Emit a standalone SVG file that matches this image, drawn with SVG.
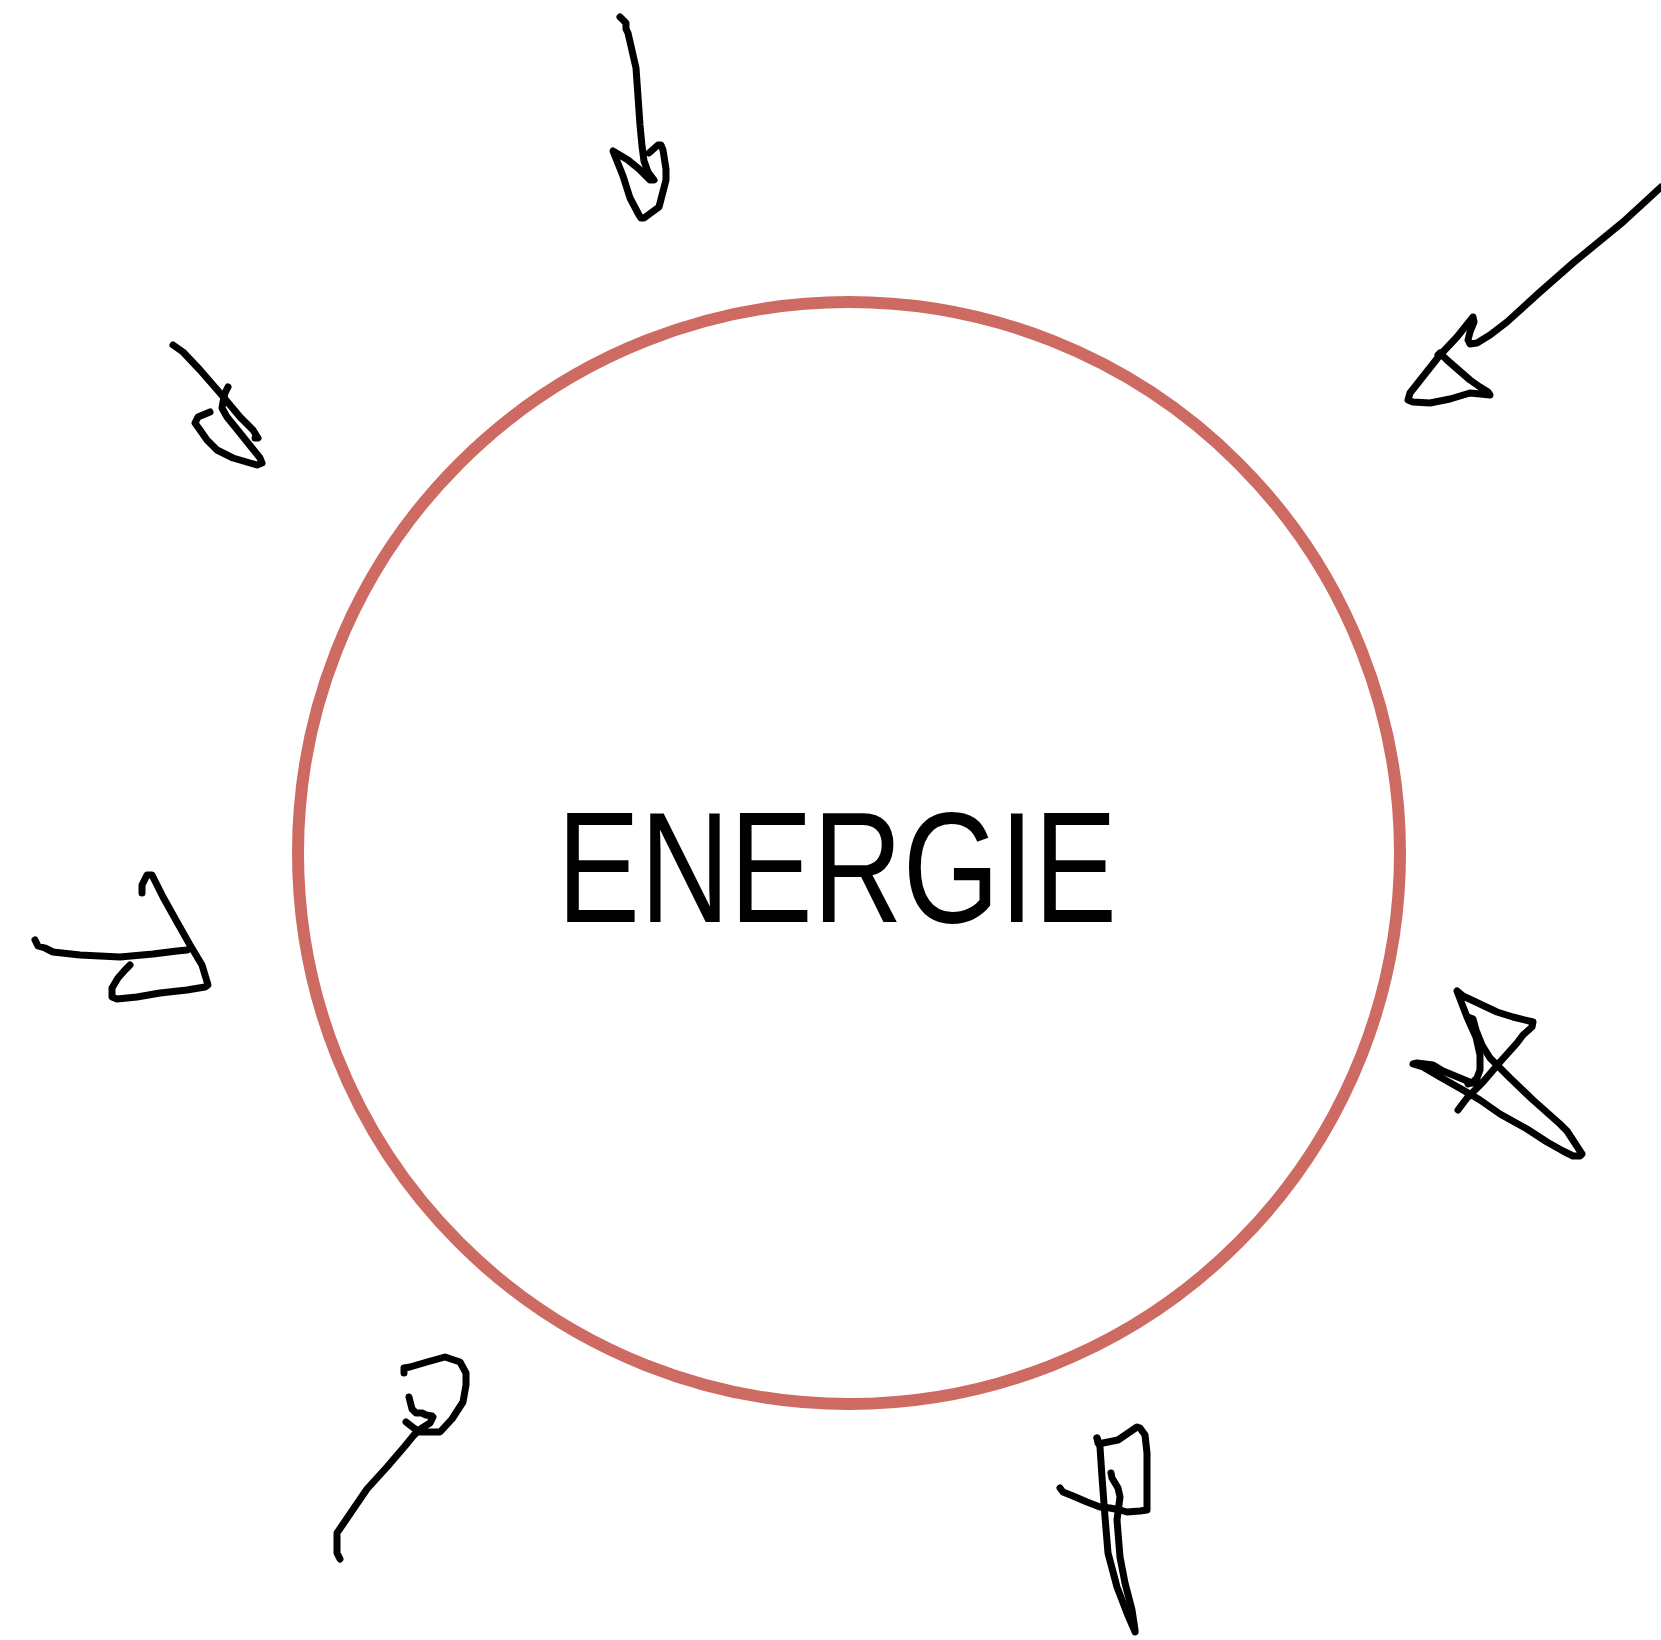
<svg xmlns="http://www.w3.org/2000/svg" width="1661" height="1640" viewBox="0 0 1661 1640">
<style>
.ink{fill:none;stroke:#000;stroke-width:7;stroke-linecap:round;stroke-linejoin:round}
.ring{fill:none;stroke:#CD6A62;stroke-width:12}
.lbl{font-family:"Liberation Sans",Arial,Helvetica,sans-serif;font-size:158px;fill:#000}
</style>
<rect width="1661" height="1640" fill="#fff"/>
<g id="energie">
<circle class="ring" cx="849" cy="853" r="551"/>
<text class="lbl" x="557" y="922" textLength="560" lengthAdjust="spacingAndGlyphs">ENERGIE</text>
</g>
<g id="strokes">
<g id="s1"><path class="ink" d="M620,17 L626,23 L626,29 L628,33 L636,68 L640,125 L642,146 L644,161 L648,172 L654,180 L650,180 L639,169 L628,160 L618,154 L613,151 L623,176 L630,198 L639,215 L641,218 L644,218 L659,207 L666,180 L666,169 L663,150 L661,145 L658,145 L649,153"/></g>
<g id="s2"><path class="ink" d="M1661,187 L1647,200 L1623,222 L1573,263 L1540,292 L1507,322 L1490,335 L1477,343 L1470,344 L1468,340 L1470,332 L1474,322 L1473,317 L1457,337 L1440,355 L1410,393 L1408,400 L1413,402 L1430,403 L1450,399 L1470,393 L1490,395 L1488,392 L1480,387 L1470,380 L1447,360 L1440,353 L1438,355"/></g>
<g id="s3"><path class="ink" d="M173,345 L183,352 L200,370 L220,393 L240,417 L253,430 L258,438 L255,438"/>
<path class="ink" d="M228,387 L225,393 L223,402 L222,408 L227,417 L240,433 L252,448 L260,458 L262,463 L257,465 L250,463 L233,458 L217,450 L207,440 L200,430 L195,423 L198,417 L210,412"/></g>
<g id="s4"><path class="ink" d="M35,940 L38,946 L45,948 L53,952 L80,955 L120,957 L153,954 L177,951 L187,950"/>
<path class="ink" d="M142,893 L142,885 L147,875 L152,875 L163,897 L177,922 L190,945 L202,965 L205,975 L208,985 L205,987 L187,990 L160,993 L137,997 L117,999 L112,997 L112,988 L118,978 L125,970 L130,965"/></g>
<g id="s5"><path class="ink" d="M1458,1110 L1467,1098 L1483,1082 L1500,1062 L1517,1043 L1523,1035 L1532,1027 L1533,1022 L1513,1017 L1497,1012 L1463,996 L1457,991 L1467,1017 L1476,1037 L1480,1055 L1480,1070 L1477,1078 L1473,1082 L1468,1084"/>
<path class="ink" d="M1468,1017 L1473,1019 L1476,1030 L1482,1045 L1490,1058 L1497,1065 L1510,1078 L1533,1100 L1560,1124 L1567,1131 L1582,1154 L1580,1156 L1573,1156 L1563,1151 L1547,1142 L1527,1129 L1500,1114 L1480,1100 L1463,1090 L1440,1077 L1423,1067 L1413,1064 L1417,1063 L1433,1065 L1443,1071 L1460,1078 L1472,1083 L1480,1083"/></g>
<g id="s6"><path class="ink" d="M404,1373 L404,1368 L410,1367 L427,1362 L445,1357 L460,1362 L466,1373 L466,1385 L463,1402 L452,1419 L440,1432 L421,1432 L415,1429 L406,1422"/>
<path class="ink" d="M409,1397 L412,1409 L416,1413 L422,1413 L426,1415 L432,1416 L433,1417 L430,1423 L422,1428 L414,1435 L405,1446 L387,1467 L367,1489 L337,1533 L337,1553 L340,1559"/></g>
<g id="s7"><path class="ink" d="M1060,1488 L1063,1492 L1073,1496 L1087,1502 L1100,1507 L1110,1508 L1120,1510 L1127,1512 L1140,1511 L1147,1510 L1147,1453 L1145,1435 L1140,1428 L1137,1427 L1118,1440 L1103,1443 L1098,1443 L1097,1438"/>
<path class="ink" d="M1097,1438 L1100,1447 L1102,1477 L1105,1517 L1108,1553 L1117,1587 L1127,1613 L1133,1627 L1135,1632"/>
<path class="ink" d="M1111,1473 L1112,1478 L1115,1483 L1118,1488 L1120,1497 L1117,1520 L1120,1557 L1125,1583 L1132,1610 L1135,1630"/></g>
</g>
</svg>
